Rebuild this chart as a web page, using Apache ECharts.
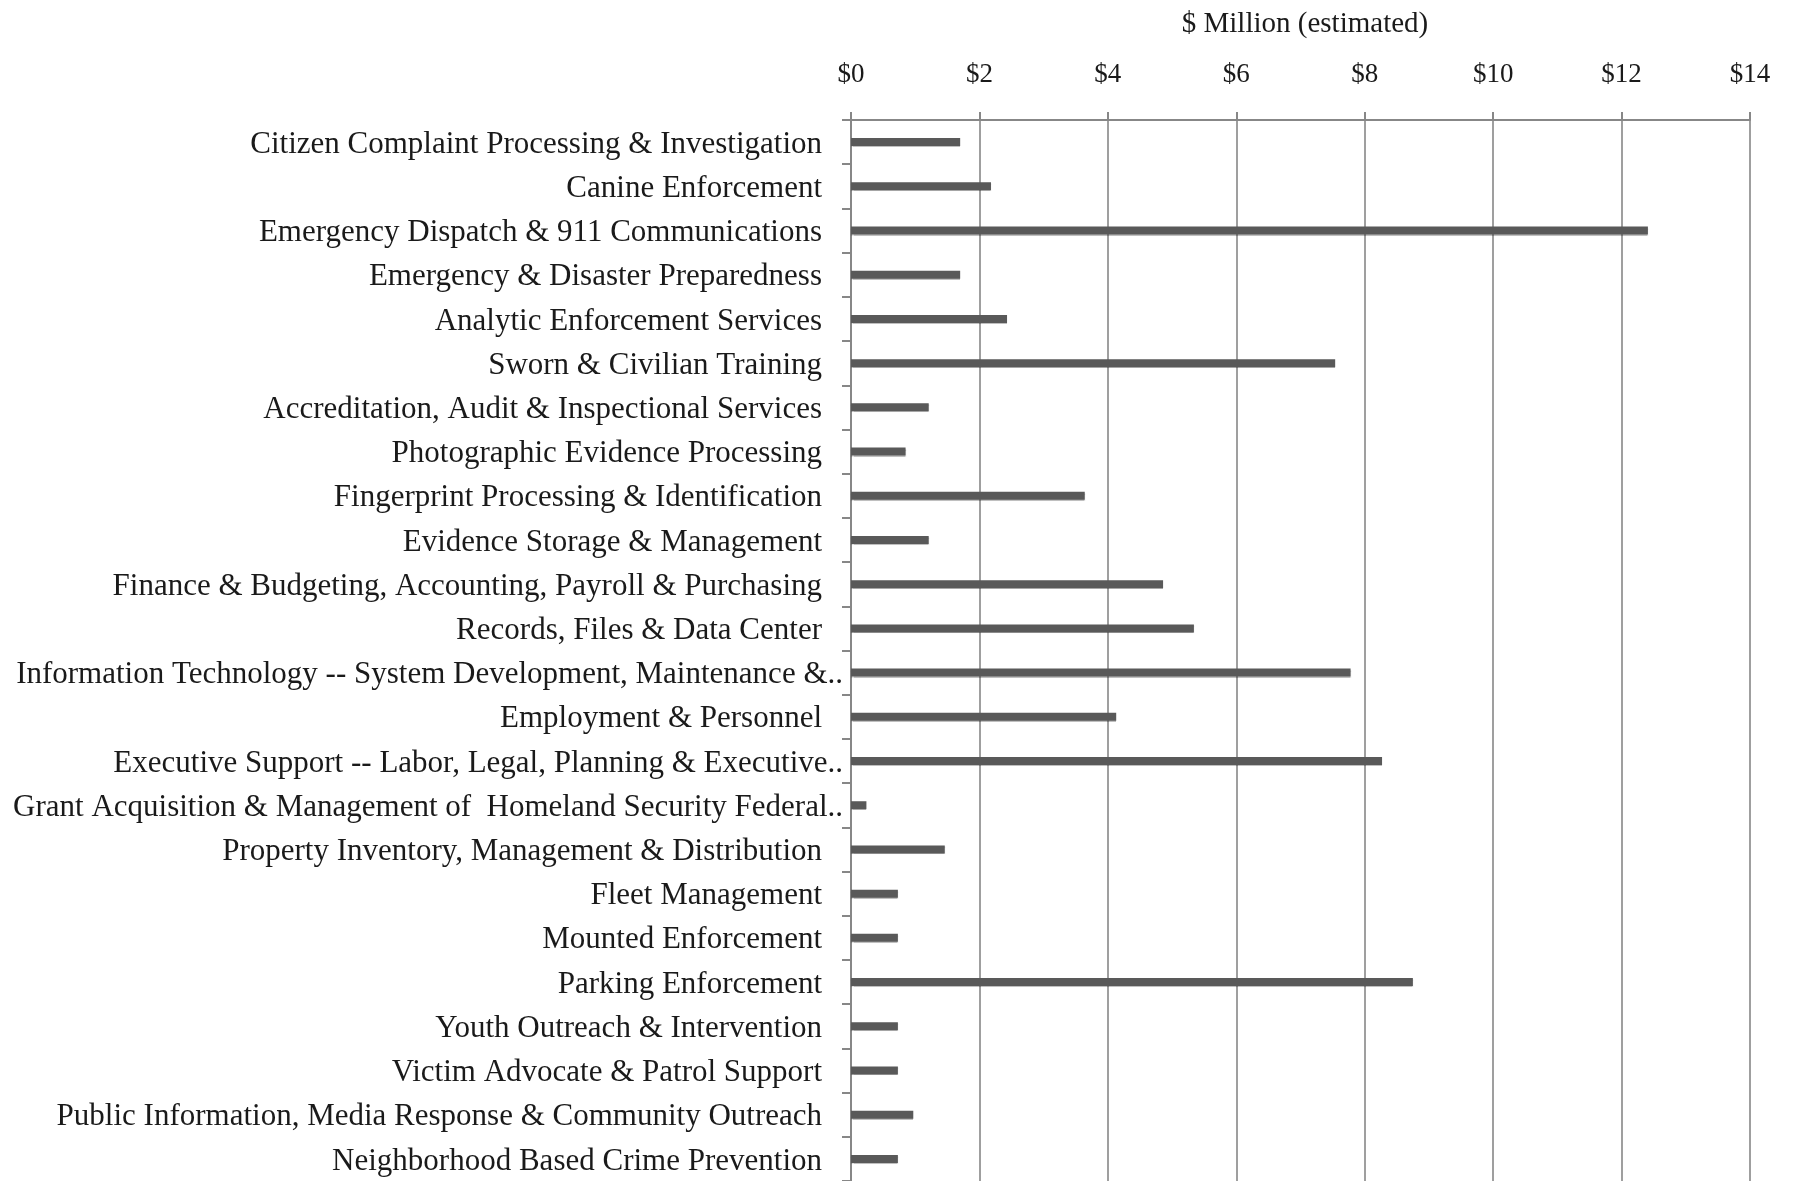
<!DOCTYPE html>
<html>
<head>
<meta charset="utf-8">
<script src="https://cdn.jsdelivr.net/npm/echarts@6/dist/echarts.min.js"></script>
<style>
  html, body { margin: 0; padding: 0; background: #ffffff; }
  #chart { width: 1795px; height: 1181px; }
</style>
</head>
<body>
<div id="chart"></div>
<script>
// Program names, top to bottom (long names are shortened as printed)
const categories = [
  'Citizen Complaint Processing & Investigation',
  'Canine Enforcement',
  'Emergency Dispatch & 911 Communications',
  'Emergency & Disaster Preparedness',
  'Analytic Enforcement Services',
  'Sworn & Civilian Training',
  'Accreditation, Audit & Inspectional Services',
  'Photographic Evidence Processing',
  'Fingerprint Processing & Identification',
  'Evidence Storage & Management',
  'Finance & Budgeting, Accounting, Payroll & Purchasing',
  'Records, Files & Data Center',
  'Information Technology -- System Development, Maintenance &..',
  'Employment & Personnel',
  'Executive Support -- Labor, Legal, Planning & Executive..',
  'Grant Acquisition & Management of  Homeland Security Federal..',
  'Property Inventory, Management & Distribution',
  'Fleet Management',
  'Mounted Enforcement',
  'Parking Enforcement',
  'Youth Outreach & Intervention',
  'Victim Advocate & Patrol Support',
  'Public Information, Media Response & Community Outreach',
  'Neighborhood Based Crime Prevention'
];

// Estimated cost per program, $ million
const costMillions = [
  1.70, 2.18, 12.41, 1.70, 2.43, 7.54, 1.21, 0.85, 3.64, 1.21,
  4.86, 5.34, 7.78, 4.13, 8.27, 0.24, 1.46, 0.73, 0.73, 8.75,
  0.73, 0.73, 0.97, 0.73
];

// Value axis tick labels
const tickLabels = ['$0', '$2', '$4', '$6', '$8', '$10', '$12', '$14'];
const axisTitle = '$ Million (estimated)';

const FONT = '"Liberation Serif", "DejaVu Serif", serif';
const TEXT = '#1a1a1a';
const AXIS = '#878787';

const chart = echarts.init(document.getElementById('chart'), null, { renderer: 'canvas' });

chart.setOption({
  backgroundColor: '#ffffff',
  animation: false,
  title: {
    text: axisTitle,
    left: 1300,
    top: 5,
    textAlign: 'center',
    textStyle: { fontFamily: FONT, fontSize: 29, fontWeight: 'normal', color: TEXT }
  },
  grid: { left: 851, right: 45, top: 120, height: 1062, containLabel: false },
  xAxis: {
    type: 'value',
    position: 'top',
    min: 0,
    max: 14,
    interval: 2,
    axisLine: { show: true, lineStyle: { color: AXIS, width: 2 } },
    axisTick: { show: true, inside: false, length: 8, lineStyle: { color: AXIS, width: 2 } },
    splitLine: { show: true, lineStyle: { color: AXIS, width: 1.6 } },
    axisLabel: {
      margin: 32,
      fontFamily: FONT,
      fontSize: 27,
      color: TEXT,
      formatter: (v) => tickLabels[Math.round(v / 2)]
    }
  },
  yAxis: {
    type: 'category',
    data: categories,
    inverse: true,
    axisLine: { show: true, lineStyle: { color: AXIS, width: 2 } },
    axisTick: { show: true, inside: false, length: 9, alignWithLabel: false, lineStyle: { color: AXIS, width: 2 } },
    splitLine: { show: false },
    axisLabel: {
      interval: 0,
      margin: 8,
      fontFamily: FONT,
      fontSize: 31,
      color: TEXT,
      // shortened names run right up to the axis; full names keep a gap
      formatter: (v) => v.endsWith('..') ? '{t|' + v + '}' : '{t|' + v + '}{s|}',
      rich: {
        t: { fontFamily: FONT, fontSize: 31, color: TEXT, padding: [5, 0, 0, 0] },
        s: { width: 21 }
      }
    }
  },
  series: [{
    type: 'bar',
    data: costMillions,
    barWidth: 8,
    itemStyle: {
      color: '#595959',
      shadowColor: 'rgba(0,0,0,0.25)',
      shadowBlur: 1,
      shadowOffsetY: 1
    }
  }]
});
</script>
</body>
</html>
